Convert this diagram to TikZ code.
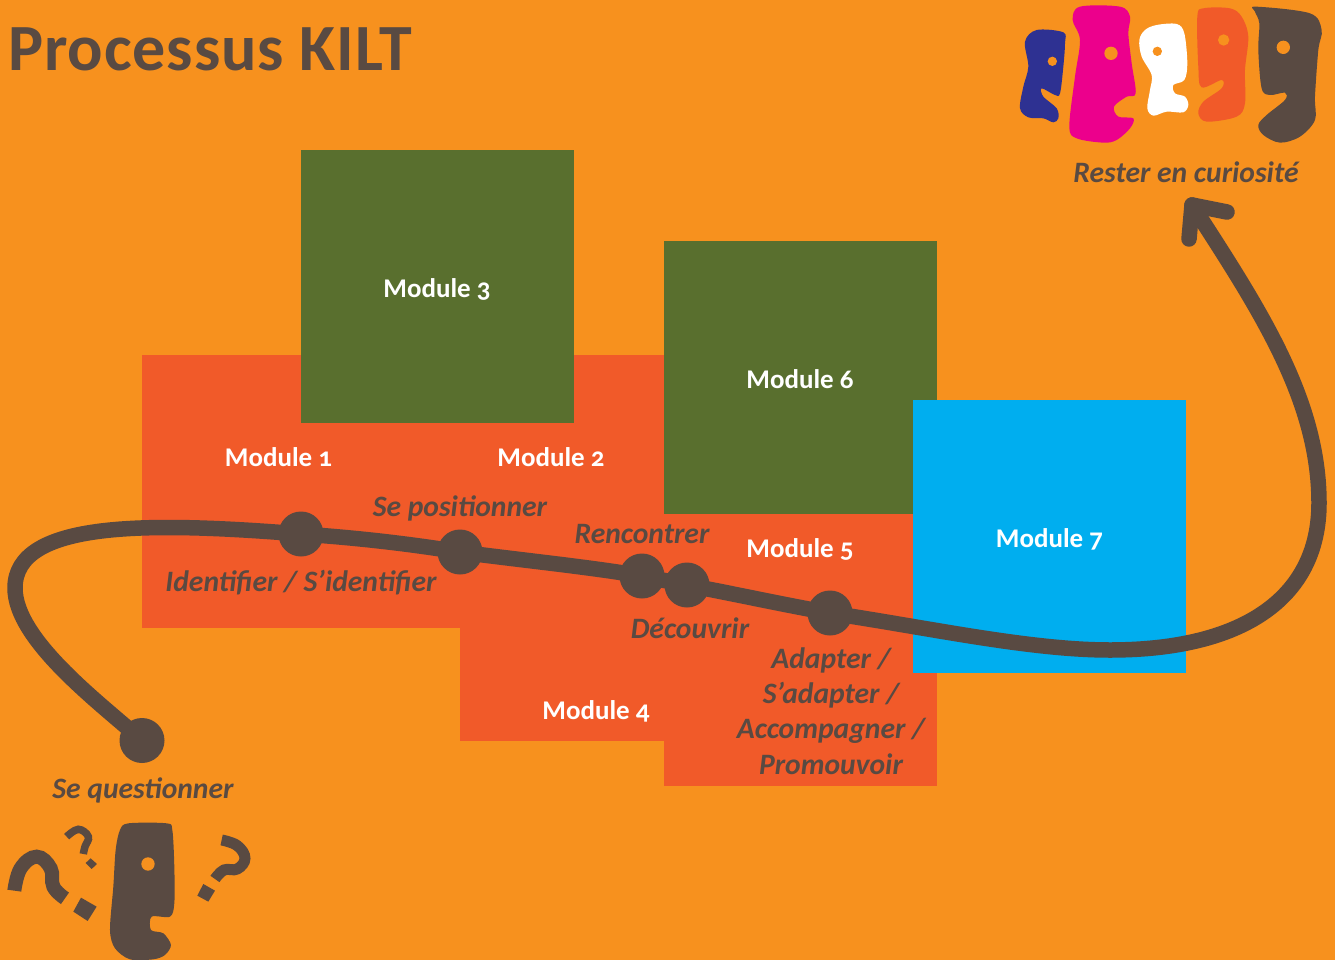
\documentclass[tikz,border=0pt]{standalone}
\usepackage{fontspec}
\setmainfont[Numbers=OldStyle]{Carlito}
\usetikzlibrary{arrows.meta}
\definecolor{bgor}{HTML}{F7911E}
\definecolor{redm}{HTML}{F15A29}
\definecolor{greenm}{HTML}{596F2E}
\definecolor{bluem}{HTML}{00AEEF}
\definecolor{darkb}{HTML}{594A42}
\definecolor{pinkf}{HTML}{EC008C}
\definecolor{navyf}{HTML}{2E3192}
\tikzset{
  modbox/.style={fill=#1,draw=none,minimum width=273pt,minimum height=273pt,inner sep=0pt,outer sep=0pt},
  modlabel/.style={text=white,font=\fontsize{27}{30}\selectfont\bfseries,inner sep=0pt},
  verb/.style={text=darkb,font=\fontsize{29.6}{35.3}\selectfont\bfseries\itshape,inner sep=0pt,align=center},
  stop/.style={circle,fill=darkb,draw=none,minimum size=45pt,inner sep=0pt},
  face/.style={fill=#1,draw=none},
  qmark/.style={draw=darkb,line cap=butt,line width=#1},
}
\begin{document}
\begin{tikzpicture}[x=1pt,y=-1pt]
\useasboundingbox (0,0) rectangle (1335,960);
\fill[bgor] (0,0) rectangle (1335,960);
% modules
\node[modbox=redm] (m1) at (278.5,491.5) {};
\node[modbox=redm] (m2) at (551,491.5) {};
\node[modbox=redm] (m4) at (596.5,604.5) {};
\node[modbox=redm] (m5) at (800.5,649.5) {};
\node[modbox=greenm] (m3) at (437.5,286.5) {};
\node[modbox=greenm] (m6) at (800.5,377.5) {};
\node[modbox=bluem] (m7) at (1049.5,536.5) {};
\node[modlabel] (l1) at (278.5,457.5) {Module 1};
\node[modlabel] (l2) at (551,457.5) {Module 2};
\node[modlabel] (l3) at (437,289.5) {Module 3};
\node[modlabel] (l4) at (596,711) {Module 4};
\node[modlabel] (l5) at (800,549.5) {Module 5};
\node[modlabel] (l6) at (800,379) {Module 6};
\node[modlabel] (l7) at (1049.5,539) {Module 7};
% path
\node[stop] (s0) at (142,740.5) {};
\node[stop] (s1) at (301,534) {};
\node[stop] (s2) at (460,552) {};
\node[stop] (s3) at (642,576) {};
\node[stop] (s4) at (687,585) {};
\node[stop] (s5) at (830,613) {};
\coordinate (tip) at (1192,205);
\coordinate (armA) at (1189,239);
\coordinate (armB) at (1227,212);
\draw[darkb,line width=15.5pt,line cap=round,line join=round]
  (s0.center) .. controls (100,703) and (15,640) .. (15,588)
  .. controls (15,520) and (150,522) .. (s1.center)
  .. controls (360,538) and (410,544) .. (s2.center)
  .. controls (520,560) and (590,567) .. (s3.center)
  -- (s4.center)
  .. controls (730,593) and (780,604) .. (s5.center)
  .. controls (930,628) and (1030,650) .. (1110,650)
  .. controls (1240,650) and (1319,600) .. (1319,503)
  .. controls (1319,400) and (1260,310) .. (tip);
\draw[darkb,line width=15.5pt,line cap=round,line join=round] (armA) -- (tip) -- (armB);
% labels
\node[verb] (v0) at (143,790) {Se questionner};
\node[verb] (v1) at (301,583) {Identifier / S’identifier};
\node[verb] (v2) at (460,508.5) {Se positionner};
\node[verb] (v3) at (642,534.5) {Rencontrer};
\node[verb] (v4) at (690,628.5) {Découvrir};
\node[verb] (v5) at (831,711) {Adapter /\\S’adapter /\\Accompagner /\\Promouvoir};
\node[verb] (v6) at (1186,172) {Rester en curiosité};
\node[text=darkb,font=\fontsize{66}{72}\selectfont\bfseries\addfontfeature{LetterSpace=1.4},anchor=base west,inner sep=0pt] (title) at (8,71) {Processus KILT};
% faces top
\begin{scope}[shift={(1000,0)},x=0.3333pt,y=-0.3333pt]
\fill[face=navyf] plot[smooth cycle,tension=0.55] coordinates {(110,90)(190,97)(195,130)(190,200)(180,280)(165,285)(125,265)(130,290)(170,325)(175,355)(160,367)(130,355)(85,352)(60,325)(70,260)(85,200)(75,125)};
\fill[bgor] (157,184) circle (14);
\fill[face=pinkf] plot[smooth cycle,tension=0.55] coordinates {(240,20)(360,20)(390,50)(385,100)(395,190)(407,280)(380,290)(342,320)(355,350)(400,355)(390,385)(350,420)(310,428)(230,415)(208,380)(225,230)(240,120)(218,60)};
\fill[bgor] (333,160) circle (20);
\fill[face=white] plot[smooth cycle,tension=0.55] coordinates {(470,75)(530,72)(553,100)(562,190)(553,240)(520,255)(525,280)(555,290)(565,315)(550,337)(500,335)(460,347)(442,325)(450,270)(455,225)(425,170)(418,120)(435,90)};
\fill[bgor] (472,154) circle (14);
\fill[face=redm] plot[smooth cycle,tension=0.55] coordinates {(610,25)(690,25)(725,50)(745,110)(735,210)(735,310)(710,350)(620,365)(595,340)(610,305)(665,265)(665,240)(605,262)(595,200)(592,50)};
\fill[bgor] (671,120) circle (17);
\fill[face=darkb] plot[smooth cycle,tension=0.55] coordinates {(768,20)(930,40)(965,90)(955,150)(945,290)(945,360)(900,410)(840,428)(790,405)(775,375)(800,345)(855,300)(855,278)(810,285)(785,265)(775,150)(778,70)(765,35)};
\fill[bgor] (850,142) circle (20);
\end{scope}
% questioning head
\begin{scope}[shift={(0,700)},x=0.3333pt,y=-0.3333pt]
\fill[face=darkb] plot[smooth cycle,tension=0.5] coordinates {(385,370)(500,370)(517,390)(523,500)(523,610)(510,650)(455,650)(453,690)(490,700)(513,735)(495,765)(460,778)(390,778)(345,745)(330,690)(340,560)(347,450)(360,390)};
\fill[bgor] (444,492) circle (20);
\draw[qmark=14pt] plot[smooth,tension=0.7] coordinates {(43,572)(62,505)(110,470)(152,505)(160,560)(195,595)};
\fill[darkb] (243,593) -- (290,620) -- (263,663) -- (220,635) -- cycle;
\draw[qmark=7.5pt] plot[smooth,tension=0.7] coordinates {(200,410)(235,388)(265,410)(255,440)(250,462)};
\fill[darkb] (272,475) -- (291,492) -- (275,507) -- (257,489) -- cycle;
\draw[qmark=11pt] plot[smooth,tension=0.7] coordinates {(665,420)(712,437)(735,475)(712,507)(672,510)(645,537)};
\fill[darkb] (610,552) -- (645,572) -- (625,605) -- (592,587) -- cycle;
\end{scope}
\end{tikzpicture}
\end{document}
